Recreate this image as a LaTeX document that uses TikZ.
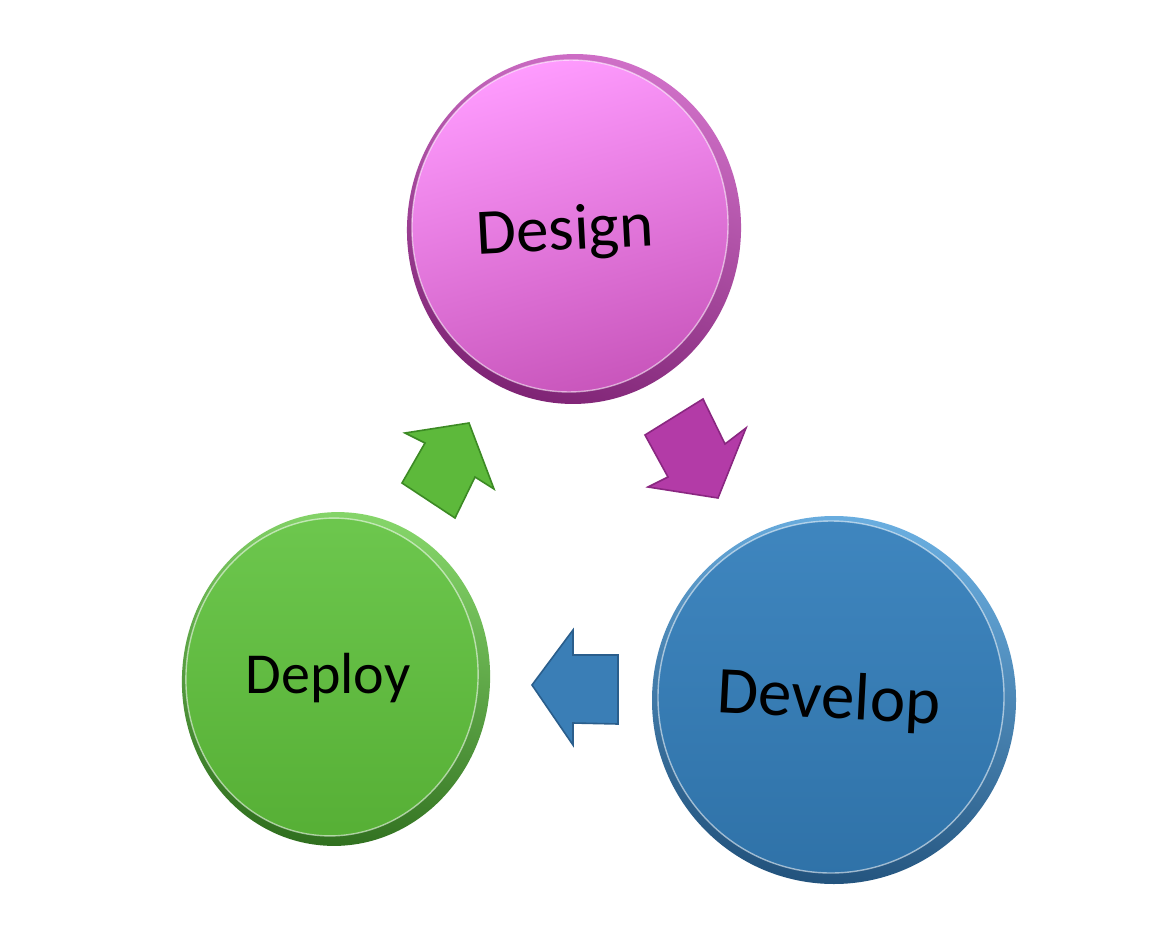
\documentclass[tikz,border=0pt]{standalone}
\usepackage{fontspec}
\setmainfont{Carlito}
\usetikzlibrary{shapes.geometric}
\definecolor{magface1}{HTML}{FF9CFF}
\definecolor{magface2}{HTML}{C855BB}
\definecolor{magrim1}{HTML}{D070C8}
\definecolor{magrim2}{HTML}{7E2374}
\definecolor{grnface1}{HTML}{6DC74E}
\definecolor{grnface2}{HTML}{56AF35}
\definecolor{grnrim1}{HTML}{86D66A}
\definecolor{grnrim2}{HTML}{2F6E1E}
\definecolor{bluface1}{HTML}{3F86BF}
\definecolor{bluface2}{HTML}{2F72A8}
\definecolor{blurim1}{HTML}{6AAEE0}
\definecolor{blurim2}{HTML}{22527C}
\definecolor{magarrow}{HTML}{B33BA7}
\definecolor{magedge}{HTML}{8A2781}
\definecolor{grnarrow}{HTML}{5DB93B}
\definecolor{grnedge}{HTML}{3C8A24}
\definecolor{bluarrow}{HTML}{3A7EB6}
\definecolor{bluedge}{HTML}{2A5E8C}
\tikzset{
  label text/.style={text=black, inner sep=0pt, anchor=base},
  arrowshape/.style={line width=1.6pt, line join=miter},
  hilite/.style={draw=white, draw opacity=0.55, line width=1.4pt},
}
\begin{document}
\begin{tikzpicture}[x=1pt,y=-1pt]
\useasboundingbox[fill=white] (0,0) rectangle (1158,936);

% ---------- Design (magenta) ----------
\shade[left color=magrim1, right color=magrim2, shading angle=-20]
  (574,229) ellipse [x radius=167, y radius=175, rotate=-4];
\shade[top color=magface1, bottom color=magface2, shading angle=15]
  (570,226) ellipse [x radius=158, y radius=166, rotate=-4];
\draw[hilite] (570,226) ellipse [x radius=158, y radius=166, rotate=-4];
\node[label text, rotate=3, font=\fontsize{65}{78}\selectfont] (design) at (566,250) {Design};

% ---------- Deploy (green) ----------
\shade[left color=grnrim1, right color=grnrim2, shading angle=-10]
  (336,679) ellipse [x radius=154, y radius=167, rotate=-5];
\shade[top color=grnface1, bottom color=grnface2]
  (332,677) ellipse [x radius=146, y radius=159, rotate=-5];
\draw[hilite] (332,677) ellipse [x radius=146, y radius=159, rotate=-5];
\node[label text, font=\fontsize{58}{70}\selectfont] (deploy) at (328,693) {Deploy};

% ---------- Develop (blue) ----------
\shade[left color=blurim1, right color=blurim2, shading angle=-10]
  (834,700) ellipse [x radius=182, y radius=184, rotate=-3];
\shade[top color=bluface1, bottom color=bluface2]
  (831,697) ellipse [x radius=173, y radius=176, rotate=-3];
\draw[hilite] (831,697) ellipse [x radius=173, y radius=176, rotate=-3];
\node[label text, rotate=-3, font=\fontsize{67}{80}\selectfont] (develop) at (828,718) {Develop};

% ---------- Block arrows ----------
% Design -> Develop
\filldraw[arrowshape, fill=magarrow, draw=magedge]
  (645,435) -- (703,399) -- (725,444) -- (746,428) -- (718,498) -- (648,487) -- (668,477) -- cycle;
% Develop -> Deploy
\filldraw[arrowshape, fill=bluarrow, draw=bluedge]
  (532,685) -- (573,630) -- (573,655) -- (618,655) -- (618,724) -- (573,723) -- (573,745) -- cycle;
% Deploy -> Design
\filldraw[arrowshape, fill=grnarrow, draw=grnedge]
  (405,433) -- (469,423) -- (494,489) -- (475,477) -- (455,518) -- (402,483) -- (425,443) -- cycle;
\end{tikzpicture}
\end{document}
